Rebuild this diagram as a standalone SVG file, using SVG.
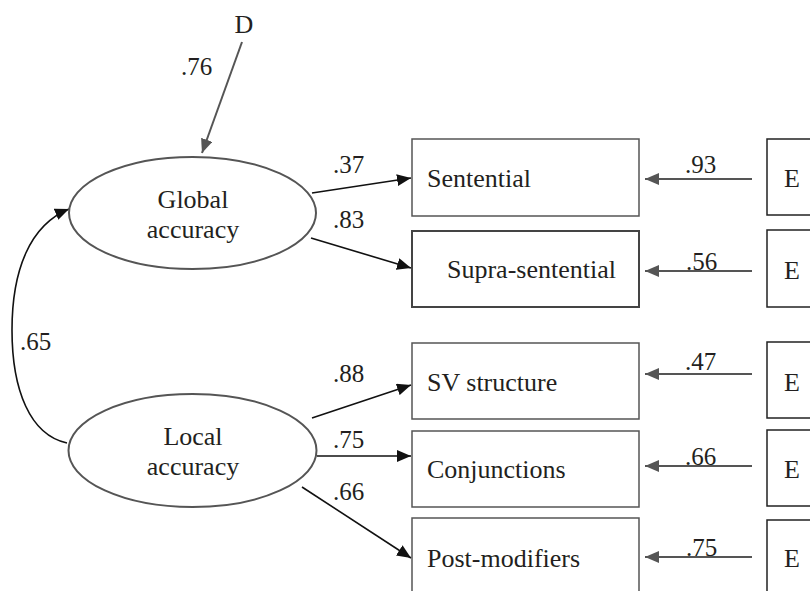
<svg xmlns="http://www.w3.org/2000/svg" width="810" height="591" viewBox="0 0 810 591">
<style>
text{font-family:'Liberation Serif','Times New Roman','DejaVu Serif',Times,serif;fill:#231f20}
.lbl{font-size:26px}
.num{font-size:25px}
.box{fill:#fff;stroke:#555;stroke-width:1.5}
.ebox{fill:#fff;stroke:#222;stroke-width:1.5}
.ell{fill:#fff;stroke:#555;stroke-width:2}
.blk{fill:none;stroke:#111;stroke-width:1.6;marker-end:url(#ab)}
.gry{fill:none;stroke:#555;stroke-width:2;marker-end:url(#ag)}
</style>
<defs>
<marker id="ab" markerUnits="userSpaceOnUse" markerWidth="16" markerHeight="12" refX="14" refY="6" orient="auto"><path d="M0,0 L14,6 L0,12 Z" fill="#111"/></marker>
<marker id="ag" markerUnits="userSpaceOnUse" markerWidth="16" markerHeight="12" refX="14" refY="6" orient="auto"><path d="M0,0 L14,6 L0,12 Z" fill="#555"/></marker>
</defs>
<rect width="810" height="591" fill="#fff"/>
<g id="connectors">
<path class="gry" d="M242,42 L202,153"/>
<path class="blk" d="M67,443 C30,435 12,390 12,330 C12,270 30,225 69,209"/>
<path class="blk" d="M312,193 L411,178"/>
<path class="blk" d="M311,238 L411,268"/>
<path class="blk" d="M312,418 L411,385"/>
<path class="blk" d="M317,456 L411,456"/>
<path class="blk" d="M302,487 L411,558"/>
<path class="gry" d="M752,179 L645,179"/>
<path class="gry" d="M752,271 L645,271"/>
<path class="gry" d="M752,374 L645,374"/>
<path class="gry" d="M752,466 L645,466"/>
<path class="gry" d="M752,557 L645,557"/>
<text class="num" x="181" y="75" font-family="Liberation Serif, serif">.76</text>
<text class="num" x="20" y="350">.65</text>
<text class="num" x="333" y="173">.37</text>
<text class="num" x="333" y="228">.83</text>
<text class="num" x="333" y="382">.88</text>
<text class="num" x="333" y="448">.75</text>
<text class="num" x="333" y="500">.66</text>
<text class="num" x="685" y="173">.93</text>
<text class="num" x="686" y="270">.56</text>
<text class="num" x="685" y="370">.47</text>
<text class="num" x="685" y="465">.66</text>
<text class="num" x="686" y="556">.75</text>
</g>
<g id="D"><text class="lbl" x="244" y="33" text-anchor="middle">D</text></g>
<g id="global"><ellipse class="ell" cx="192.5" cy="213" rx="123.5" ry="56"/>
<text class="lbl" x="193" y="208" text-anchor="middle">Global</text>
<text class="lbl" x="193" y="238" text-anchor="middle">accuracy</text></g>
<g id="local"><ellipse class="ell" cx="192.5" cy="450.5" rx="124" ry="56.5"/>
<text class="lbl" x="193" y="445" text-anchor="middle">Local</text>
<text class="lbl" x="193" y="475" text-anchor="middle">accuracy</text></g>
<g id="sentential"><rect class="box" x="412" y="139" width="227" height="77"/><text class="lbl" x="427" y="187">Sentential</text></g>
<g id="supra"><rect class="box" x="412" y="231" width="227" height="76" style="stroke:#444;stroke-width:2"/><text class="lbl" x="447" y="278">Supra-sentential</text></g>
<g id="sv"><rect class="box" x="412" y="343" width="227" height="76"/><text class="lbl" x="427" y="391">SV structure</text></g>
<g id="conj"><rect class="box" x="412" y="431" width="227" height="76"/><text class="lbl" x="427" y="478">Conjunctions</text></g>
<g id="post"><rect class="box" x="412" y="518" width="227" height="80"/><text class="lbl" x="427" y="567">Post-modifiers</text></g>
<g id="e1"><rect class="ebox" x="767" y="139" width="60" height="76"/><text class="lbl" x="784" y="187">E</text></g>
<g id="e2"><rect class="ebox" x="767" y="230" width="60" height="77"/><text class="lbl" x="784" y="279">E</text></g>
<g id="e3"><rect class="ebox" x="767" y="342" width="60" height="76"/><text class="lbl" x="784" y="391">E</text></g>
<g id="e4"><rect class="ebox" x="767" y="430" width="60" height="76"/><text class="lbl" x="784" y="478">E</text></g>
<g id="e5"><rect class="ebox" x="767" y="520" width="60" height="80"/><text class="lbl" x="784" y="567">E</text></g>
</svg>
